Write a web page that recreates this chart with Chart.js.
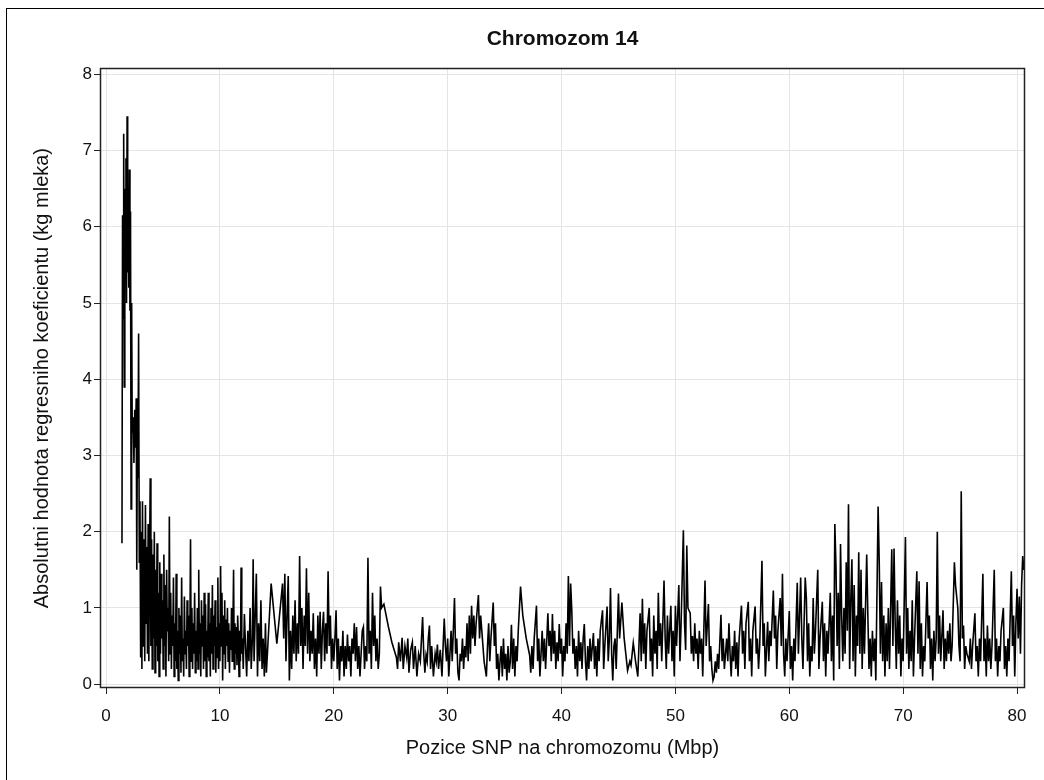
<!DOCTYPE html>
<html>
<head>
<meta charset="utf-8">
<script src="https://cdn.jsdelivr.net/npm/chart.js@4.4.1/dist/chart.umd.min.js"></script>
<style>
  html, body { margin: 0; padding: 0; background: #fff; overflow: hidden; }
  #frame { position: absolute; left: 6px; top: 8px; width: 1100px; height: 900px; border: 1px solid #000; }
  #snp { position: absolute; left: 0; top: 0; }
</style>
</head>
<body>
<div id="frame"></div>
<canvas id="snp" width="1044" height="780"></canvas>
<script>
// ============================================================
// DATA
// ============================================================

// SNP position on chromosome 14 (Mbp)
const snpPos = [
  1.40, 1.45, 1.50, 1.55, 1.60, 1.65, 1.70, 1.75, 1.80, 1.85,
  1.90, 1.95, 2.00, 2.05, 2.10, 2.15, 2.20, 2.25, 2.30, 2.38,
  2.45, 2.52, 2.58, 2.65, 2.70, 2.75, 2.80, 2.86, 2.92, 2.98,
  3.04, 3.10, 3.15, 3.20, 3.27, 3.33, 3.40, 3.46, 3.52, 3.58,
  3.64, 3.70, 3.76, 3.82, 3.88, 3.94, 4.00, 4.06, 4.12, 4.18,
  4.24, 4.30, 4.36, 4.42, 4.48, 4.54, 4.60, 4.66, 4.72, 4.78,
  4.84, 4.90, 4.96, 5.02, 5.08, 5.14, 5.20, 5.26, 5.32, 5.38,
  5.44, 5.50, 5.56, 5.62, 5.68, 5.74, 5.80, 5.86, 5.92, 5.98,
  6.04, 6.10, 6.16, 6.22, 6.28, 6.34, 6.40, 6.46, 6.52, 6.58,
  6.64, 6.70, 6.76, 6.82, 6.88, 6.94, 7.00, 7.06, 7.12, 7.18,
  7.24, 7.30, 7.36, 7.42, 7.48, 7.54, 7.60, 7.66, 7.72, 7.78,
  7.84, 7.90, 7.96, 8.02, 8.08, 8.14, 8.20, 8.26, 8.32, 8.38,
  8.44, 8.50, 8.56, 8.62, 8.68, 8.74, 8.80, 8.86, 8.92, 8.98,
  9.04, 9.10, 9.16, 9.22, 9.28, 9.34, 9.40, 9.46, 9.52, 9.58,
  9.64, 9.70, 9.76, 9.82, 9.88, 9.94, 10.00, 10.06, 10.12, 10.18,
  10.24, 10.30, 10.36, 10.42, 10.48, 10.54, 10.60, 10.66, 10.72, 10.78,
  10.84, 10.90, 10.96, 11.02, 11.08, 11.14, 11.20, 11.26, 11.32, 11.38,
  11.44, 11.50, 11.56, 11.62, 11.68, 11.74, 11.80, 11.86, 11.92, 11.98,
  12.05, 12.15, 12.25, 12.35, 12.45, 12.55, 12.65, 12.75, 12.85, 12.92,
  13.00, 13.10, 13.20, 13.30, 13.40, 13.50, 13.60, 13.70, 13.80, 13.90,
  14.00, 14.08, 14.50, 15.00, 15.50, 15.60, 15.70, 15.80, 15.90, 16.00,
  16.10, 16.20, 16.30, 16.40, 16.50, 16.60, 16.70, 16.80, 16.90, 17.00,
  17.10, 17.20, 17.30, 17.40, 17.50, 17.60, 17.70, 17.80, 17.90, 18.00,
  18.10, 18.20, 18.30, 18.40, 18.50, 18.60, 18.70, 18.80, 18.90, 19.00,
  19.10, 19.20, 19.30, 19.40, 19.50, 19.60, 19.70, 19.80, 19.90, 20.00,
  20.10, 20.20, 20.30, 20.40, 20.50, 20.60, 20.70, 20.80, 20.90, 21.00,
  21.10, 21.20, 21.30, 21.40, 21.50, 21.60, 21.70, 21.80, 21.90, 22.00,
  22.10, 22.20, 22.30, 22.40, 22.50, 22.60, 22.70, 22.80, 22.90, 23.00,
  23.10, 23.20, 23.30, 23.40, 23.50, 23.60, 23.70, 23.80, 23.90, 24.00,
  24.10, 24.20, 24.40, 24.80, 25.10, 25.50, 25.60, 25.70, 25.85, 26.00,
  26.10, 26.25, 26.40, 26.50, 26.60, 26.75, 26.90, 27.00, 27.15, 27.30,
  27.45, 27.60, 27.80, 27.90, 28.00, 28.10, 28.20, 28.30, 28.40, 28.50,
  28.60, 28.75, 28.90, 29.00, 29.10, 29.20, 29.35, 29.50, 29.60, 29.70,
  29.80, 29.90, 30.00, 30.10, 30.20, 30.30, 30.40, 30.60, 30.70, 30.80,
  30.90, 31.00, 31.10, 31.20, 31.30, 31.40, 31.50, 31.60, 31.70, 31.80,
  31.90, 32.00, 32.10, 32.20, 32.30, 32.40, 32.50, 32.70, 32.80, 32.90,
  33.00, 33.20, 33.40, 33.50, 33.60, 33.70, 33.80, 34.00, 34.10, 34.20,
  34.30, 34.40, 34.50, 34.60, 34.70, 34.80, 34.90, 35.00, 35.10, 35.20,
  35.30, 35.40, 35.50, 35.60, 35.70, 35.80, 35.90, 36.00, 36.10, 36.20,
  36.40, 36.60, 36.90, 37.20, 37.30, 37.40, 37.50, 37.60, 37.80, 37.90,
  38.00, 38.10, 38.20, 38.30, 38.40, 38.50, 38.60, 38.80, 38.90, 39.00,
  39.10, 39.20, 39.30, 39.40, 39.50, 39.60, 39.70, 39.80, 39.90, 40.00,
  40.10, 40.20, 40.30, 40.40, 40.50, 40.60, 40.70, 40.80, 40.90, 41.00,
  41.10, 41.20, 41.30, 41.40, 41.50, 41.60, 41.70, 41.80, 41.90, 42.00,
  42.10, 42.20, 42.30, 42.40, 42.50, 42.60, 42.80, 42.90, 43.00, 43.10,
  43.20, 43.30, 43.40, 43.60, 43.70, 43.80, 44.00, 44.10, 44.20, 44.30,
  44.40, 44.50, 44.60, 44.70, 44.80, 45.00, 45.10, 45.30, 45.50, 45.80,
  46.00, 46.10, 46.30, 46.50, 46.70, 46.90, 47.00, 47.10, 47.20, 47.30,
  47.40, 47.50, 47.70, 47.80, 47.90, 48.00, 48.10, 48.20, 48.30, 48.40,
  48.50, 48.60, 48.70, 48.80, 49.00, 49.10, 49.20, 49.30, 49.40, 49.60,
  49.70, 49.80, 49.90, 50.00, 50.10, 50.30, 50.40, 50.50, 50.70, 50.80,
  50.90, 51.00, 51.10, 51.30, 51.40, 51.50, 51.60, 51.70, 51.80, 51.90,
  52.00, 52.10, 52.20, 52.30, 52.40, 52.60, 52.70, 52.90, 53.00, 53.10,
  53.20, 53.30, 53.40, 53.50, 53.60, 53.70, 53.80, 54.00, 54.10, 54.20,
  54.30, 54.50, 54.60, 54.70, 54.80, 54.90, 55.00, 55.10, 55.20, 55.30,
  55.40, 55.50, 55.60, 55.80, 55.90, 56.00, 56.10, 56.20, 56.40, 56.50,
  56.60, 56.70, 56.80, 57.00, 57.10, 57.20, 57.30, 57.40, 57.60, 57.70,
  57.80, 57.90, 58.10, 58.20, 58.30, 58.40, 58.60, 58.70, 58.80, 58.90,
  59.00, 59.20, 59.30, 59.40, 59.50, 59.60, 59.70, 59.80, 60.00, 60.10,
  60.20, 60.30, 60.40, 60.50, 60.70, 60.80, 61.00, 61.10, 61.20, 61.40,
  61.50, 61.60, 61.70, 61.80, 61.90, 62.00, 62.10, 62.20, 62.30, 62.50,
  62.60, 62.70, 62.90, 63.00, 63.10, 63.20, 63.30, 63.40, 63.60, 63.70,
  63.80, 63.90, 64.00, 64.10, 64.20, 64.30, 64.40, 64.50, 64.60, 64.70,
  64.80, 64.90, 65.00, 65.10, 65.20, 65.30, 65.40, 65.50, 65.60, 65.70,
  65.80, 65.90, 66.00, 66.10, 66.20, 66.30, 66.40, 66.50, 66.60, 66.80,
  66.90, 67.00, 67.10, 67.20, 67.30, 67.40, 67.50, 67.60, 67.80, 67.90,
  68.00, 68.10, 68.20, 68.30, 68.40, 68.50, 68.60, 68.70, 68.80, 69.00,
  69.10, 69.20, 69.30, 69.40, 69.50, 69.60, 69.70, 69.80, 69.90, 70.00,
  70.20, 70.30, 70.40, 70.50, 70.60, 70.70, 70.80, 70.90, 71.00, 71.20,
  71.30, 71.40, 71.50, 71.60, 71.70, 71.80, 71.90, 72.10, 72.20, 72.30,
  72.40, 72.50, 72.60, 72.70, 72.80, 72.90, 73.00, 73.10, 73.20, 73.30,
  73.50, 73.60, 73.70, 73.80, 73.90, 74.00, 74.10, 74.20, 74.30, 74.50,
  74.60, 74.80, 74.90, 75.00, 75.10, 75.20, 75.30, 75.40, 75.50, 75.60,
  75.80, 75.90, 76.00, 76.10, 76.30, 76.40, 76.50, 76.60, 76.70, 76.80,
  77.00, 77.10, 77.20, 77.30, 77.40, 77.50, 77.60, 77.70, 77.80, 78.00,
  78.10, 78.20, 78.30, 78.40, 78.50, 78.60, 78.80, 78.90, 79.00, 79.10,
  79.20, 79.30, 79.50, 79.60, 79.70, 79.80, 79.90, 80.00, 80.10, 80.20,
  80.30, 80.40, 80.50, 80.60, 80.70
];

// absolute value of the regression coefficient (kg milk)
const coefAbs = [
  1.85, 6.15, 4.8, 7.22, 3.9, 6.5, 5.3, 6.9, 5.0, 7.45,
  5.4, 6.3, 5.2, 6.75, 4.9, 6.2, 2.3, 5.0, 3.3, 3.5,
  2.9, 3.6, 3.1, 3.75, 1.5, 3.3, 2.7, 4.6, 1.6, 2.4,
  0.35, 2.0, 0.2, 2.4, 0.5, 1.9, 0.3, 2.35, 0.8, 1.8,
  0.4, 2.1, 0.3, 1.6, 2.7, 0.5, 1.9, 0.2, 1.7, 0.6,
  2.0, 0.15, 1.5, 0.5, 1.85, 0.3, 1.2, 0.1, 1.6, 0.4,
  1.45, 0.6, 1.1, 0.2, 1.7, 0.5, 1.3, 0.1, 1.5, 0.7,
  1.0, 0.3, 2.2, 0.4, 1.2, 0.2, 0.9, 0.5, 1.4, 0.1,
  0.8, 0.3, 1.45, 0.2, 0.7, 0.05, 1.0, 0.4, 0.9, 0.15,
  1.4, 0.3, 0.6, 0.1, 1.15, 0.4, 0.7, 0.2, 1.1, 0.5,
  0.9, 0.1, 0.6, 1.9, 0.3, 1.0, 0.2, 0.8, 0.4, 1.2,
  0.15, 0.7, 0.3, 1.0, 0.2, 1.5, 0.4, 0.8, 0.1, 1.1,
  0.5, 0.9, 0.2, 1.2, 0.3, 1.05, 0.1, 0.7, 0.35, 1.2,
  0.3, 0.8, 0.1, 1.0, 0.4, 1.3, 0.2, 0.9, 0.5, 1.1,
  0.15, 0.75, 0.35, 1.4, 0.2, 0.8, 0.3, 1.55, 0.5, 1.2,
  0.05, 0.9, 0.4, 1.1, 0.2, 0.85, 0.5, 1.0, 0.3, 0.8,
  0.15, 0.7, 0.45, 1.0, 0.3, 0.7, 1.5, 0.2, 0.8, 0.4,
  0.75, 0.25, 0.9, 0.6, 0.1, 0.7, 0.3, 1.53, 0.4, 0.6,
  0.2, 0.92, 0.5, 0.1, 0.7, 0.3, 1.0, 0.2, 0.6, 1.64,
  0.3, 0.9, 1.45, 0.1, 0.8, 0.3, 1.1, 0.2, 0.6, 0.1,
  0.8, 0.15, 1.32, 0.53, 1.32, 0.6, 1.45, 0.3, 0.9, 1.42,
  0.05, 0.7, 0.2, 0.9, 0.4, 1.1, 0.3, 0.8, 0.4, 1.68,
  0.5, 1.0, 0.2, 0.9, 0.5, 1.52, 0.4, 1.2, 0.3, 0.7,
  0.4, 0.93, 0.2, 0.6, 0.1, 0.9, 0.4, 0.95, 0.2, 0.7,
  0.95, 0.3, 0.8, 0.4, 1.48, 0.5, 0.9, 0.2, 0.6, 0.3,
  0.6, 0.97, 0.2, 0.6, 0.05, 0.5, 0.3, 0.7, 0.1, 0.5,
  0.2, 0.65, 0.3, 0.5, 0.1, 0.6, 0.4, 0.8, 0.3, 0.75,
  0.2, 0.5, 0.1, 0.4, 0.7, 0.75, 0.2, 0.5, 0.3, 1.66,
  0.4, 0.7, 0.2, 1.2, 0.5, 0.9, 0.3, 0.6, 0.2, 0.4,
  1.28, 1.0, 1.05, 0.75, 0.55, 0.35, 0.2, 0.55, 0.3, 0.61,
  0.2, 0.5, 0.35, 0.6, 0.15, 0.45, 0.55, 0.2, 0.5, 0.1,
  0.4, 0.3, 0.88, 0.4, 0.15, 0.38, 0.3, 0.6, 0.77, 0.2,
  0.5, 0.1, 0.4, 0.3, 0.52, 0.2, 0.45, 0.1, 0.5, 0.86,
  0.5, 0.3, 0.6, 0.1, 0.4, 0.7, 0.3, 1.13, 0.4, 0.6,
  0.15, 0.05, 0.4, 0.3, 0.6, 0.2, 0.5, 0.35, 0.8, 0.3,
  0.9, 0.4, 1.03, 0.6, 0.9, 0.5, 0.8, 1.17, 0.6, 0.9,
  0.7, 0.3, 0.1, 0.5, 0.8, 0.3, 0.6, 1.07, 0.5, 0.8,
  0.2, 0.4, 0.05, 0.3, 0.5, 0.1, 0.6, 0.2, 0.4, 0.05,
  0.5, 0.15, 0.3, 0.78, 0.2, 0.6, 0.1, 0.5, 0.3, 0.7,
  1.28, 0.9, 0.6, 0.38, 0.15, 0.5, 0.2, 0.6, 1.03, 0.3,
  0.6, 0.1, 0.4, 0.7, 0.3, 0.6, 0.2, 0.93, 0.5, 0.7,
  0.3, 0.92, 0.4, 0.7, 0.2, 0.55, 0.3, 0.79, 0.4, 0.6,
  0.1, 0.5, 0.3, 0.8, 0.4, 1.42, 0.5, 1.32, 0.97, 0.4,
  0.6, 0.2, 0.5, 0.1, 0.7, 0.3, 0.55, 0.2, 0.6, 0.79,
  0.3, 0.05, 0.5, 0.2, 0.6, 0.3, 0.67, 0.2, 0.5, 0.1,
  0.6, 0.3, 0.7, 0.97, 0.2, 0.5, 1.02, 0.3, 0.6, 1.26,
  0.4, 0.05, 0.5, 0.6, 0.2, 1.19, 0.6, 1.07, 0.6, 0.18,
  0.3, 0.25, 0.54, 0.3, 0.1, 0.93, 0.3, 1.12, 0.4, 0.8,
  0.2, 0.7, 1.0, 0.3, 0.6, 0.1, 0.9, 0.4, 0.7, 0.2,
  1.2, 0.5, 0.8, 0.3, 1.36, 0.6, 0.2, 0.9, 0.4, 1.03,
  0.3, 0.7, 0.1, 1.03, 0.5, 1.3, 0.3, 0.8, 2.02, 0.8,
  0.45, 1.82, 1.0, 0.93, 0.4, 0.63, 0.3, 0.8, 0.4, 0.6,
  0.2, 0.7, 0.4, 0.6, 0.1, 1.36, 0.5, 1.05, 0.3, 0.5,
  0.2, 0.05, 0.1, 0.3, 0.15, 0.4, 0.2, 0.91, 0.3, 0.6,
  0.2, 0.6, 0.3, 0.8, 0.4, 0.1, 0.5, 0.3, 0.7, 0.2,
  0.55, 0.1, 0.6, 1.03, 0.4, 0.7, 0.2, 0.8, 1.08, 0.3,
  0.6, 0.1, 0.7, 1.02, 0.4, 0.6, 0.2, 0.5, 1.62, 0.5,
  0.8, 0.1, 0.82, 0.3, 0.7, 0.5, 1.23, 0.6, 0.9, 0.2,
  0.7, 1.13, 0.5, 1.45, 0.4, 0.1, 0.6, 0.3, 0.96, 0.2,
  0.5, 0.05, 0.6, 0.3, 1.33, 0.4, 1.4, 0.6, 0.2, 1.4,
  1.13, 0.3, 0.8, 0.1, 0.5, 0.3, 1.13, 0.4, 0.7, 1.5,
  0.2, 0.6, 1.08, 0.3, 0.8, 0.1, 0.7, 0.4, 1.2, 0.3,
  0.9, 0.05, 2.1, 1.55, 0.5, 1.2, 0.2, 1.84, 0.9, 0.3,
  1.0, 0.4, 1.6, 0.7, 2.36, 0.2, 1.1, 1.64, 0.3, 1.3,
  0.1, 0.9, 0.5, 1.73, 0.4, 1.5, 0.2, 1.0, 0.4, 1.7,
  0.9, 0.2, 0.6, 0.1, 0.7, 0.3, 0.6, 0.05, 2.33, 1.6,
  0.4, 1.34, 0.3, 0.9, 0.1, 0.8, 0.3, 1.0, 0.2, 1.77,
  0.5, 1.78, 0.8, 0.2, 1.1, 0.4, 0.9, 0.1, 0.6, 0.3,
  1.93, 0.4, 1.0, 0.2, 0.7, 0.3, 1.1, 0.1, 0.6, 1.48,
  0.4, 1.35, 0.2, 0.8, 0.1, 0.5, 0.3, 1.34, 0.6, 0.9,
  0.2, 0.6, 0.05, 0.7, 0.3, 0.6, 2.0, 0.4, 0.9, 0.3,
  0.97, 0.2, 0.6, 0.3, 0.7, 0.4, 0.8, 0.3, 0.5, 1.6,
  1.3, 1.0, 0.5, 0.3, 2.53, 0.6, 0.77, 0.2, 0.5, 0.4,
  0.3, 0.6, 0.2, 0.5, 0.93, 0.3, 0.5, 0.1, 0.6, 0.3,
  1.45, 0.3, 0.6, 0.1, 0.77, 0.3, 0.6, 0.2, 0.5, 1.5,
  0.3, 0.6, 0.1, 0.5, 0.3, 0.7, 1.0, 0.2, 0.5, 0.1,
  0.6, 0.3, 1.48, 0.5, 0.9, 0.1, 0.8, 1.25, 0.6, 1.15,
  0.4, 1.3, 1.68, 1.5, 1.65
];

const xTicks = [0, 10, 20, 30, 40, 50, 60, 70, 80];
const yTicks = [0, 1, 2, 3, 4, 5, 6, 7, 8];

// ============================================================
// CHART
// ============================================================
const FONT = 'Arial, "Liberation Sans", sans-serif';
const TEXT = '#111';
const GRID = '#e4e4e4';

const points = snpPos.map((x, i) => ({ x: x, y: coefAbs[i] }));

// dark frame round the plot area
const plotFrame = {
  id: 'plotFrame',
  afterDraw(chart) {
    const { ctx, chartArea: a } = chart;
    ctx.save();
    ctx.strokeStyle = '#222';
    ctx.lineWidth = 1.5;
    ctx.strokeRect(Math.round(a.left) + 0.5, Math.round(a.top) + 0.5,
      Math.round(a.right - a.left) - 1, Math.round(a.bottom - a.top) - 1);
    ctx.restore();
  }
};

new Chart(document.getElementById('snp'), {
  type: 'line',
  data: {
    datasets: [{
      data: points,
      borderColor: '#000',
      borderWidth: 1.6,
      pointRadius: 0,
      tension: 0,
      fill: false
    }]
  },
  options: {
    responsive: false,
    animation: false,
    devicePixelRatio: 1,
    layout: { padding: { left: 0, right: 19, top: 0, bottom: 0 } },
    plugins: {
      legend: { display: false },
      tooltip: { enabled: false },
      title: {
        display: true,
        text: 'Chromozom 14',
        fullSize: false,
        color: TEXT,
        font: { family: FONT, size: 21, weight: 'bold' },
        padding: { top: 27, bottom: 16 }
      }
    },
    scales: {
      x: {
        type: 'linear',
        min: -0.53,
        max: 80.7,
        afterBuildTicks: s => { s.ticks = xTicks.map(v => ({ value: v })); },
        afterFit: s => { s.height = 92; },
        border: { display: false },
        grid: { color: GRID, tickColor: '#222', tickLength: 6 },
        ticks: { color: TEXT, font: { family: FONT, size: 17 }, padding: 12, maxRotation: 0 },
        title: {
          display: true,
          text: 'Pozice SNP na chromozomu (Mbp)',
          color: TEXT,
          font: { family: FONT, size: 20 },
          padding: { top: 0, bottom: 20 }
        }
      },
      y: {
        type: 'linear',
        min: -0.05,
        max: 8.08,
        afterBuildTicks: s => { s.ticks = yTicks.map(v => ({ value: v })); },
        afterFit: s => { s.width = 100; },
        border: { display: false },
        grid: { color: GRID, tickColor: '#222', tickLength: 6 },
        ticks: { color: TEXT, font: { family: FONT, size: 17 }, padding: 2 },
        title: {
          display: true,
          text: 'Absolutni hodnota regresniho koeficientu (kg mleka)',
          color: TEXT,
          font: { family: FONT, size: 20 },
          padding: { top: 30, bottom: 0 }
        }
      }
    }
  },
  plugins: [plotFrame]
});
</script>
</body>
</html>
